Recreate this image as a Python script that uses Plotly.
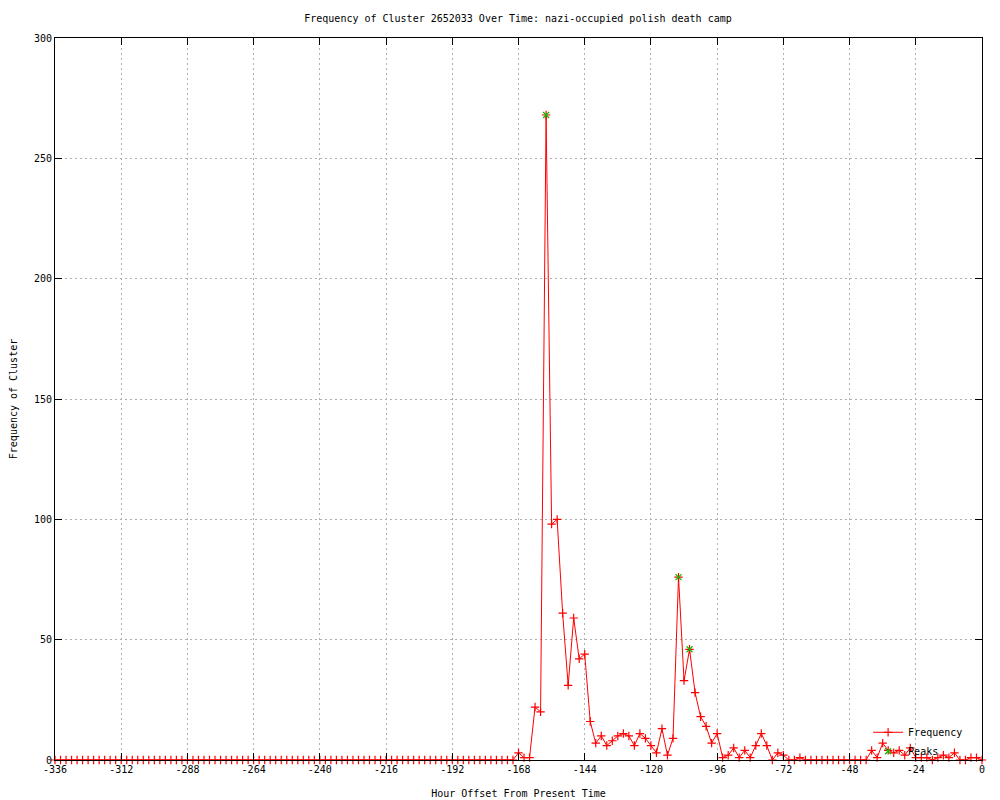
import plotly.graph_objects as go

# Hour offsets (every 2 hours from -336 to 0)
hours = list(range(-336, 1, 2))

frequency = [
    # -336 .. -170
    0, 0, 0, 0, 0, 0, 0, 0, 0, 0, 0, 0, 0, 0, 0, 0, 0, 0, 0, 0,
    0, 0, 0, 0, 0, 0, 0, 0, 0, 0, 0, 0, 0, 0, 0, 0, 0, 0, 0, 0,
    0, 0, 0, 0, 0, 0, 0, 0, 0, 0, 0, 0, 0, 0, 0, 0, 0, 0, 0, 0,
    0, 0, 0, 0, 0, 0, 0, 0, 0, 0, 0, 0, 0, 0, 0, 0, 0, 0, 0, 0,
    0, 0, 0, 0,
    # -168 .. -130
    3, 1, 1, 22, 20, 268, 98, 100, 61, 31, 59, 42, 44, 16, 7, 10, 6, 8, 10, 11,
    # -128 .. -90
    10, 6, 11, 9, 6, 3, 13, 2, 9, 76, 33, 46, 28, 18, 14, 7, 11, 1, 2, 5,
    # -88 .. -50
    1, 4, 1, 6, 11, 6, 0, 3, 2, 0, 0, 1, 0, 0, 0, 0, 0, 0, 0, 0,
    # -48 .. -10
    0, 0, 0, 0, 4, 1, 7, 4, 3, 4, 2, 5, 1, 1, 1, 0, 1, 2, 1, 3,
    # -8 .. 0
    0, 0, 1, 1, 0,
]

peak_hours = [-158, -110, -106]
peak_values = [268, 76, 46]

x_tick_vals = [-336, -312, -288, -264, -240, -216, -192, -168, -144, -120, -96, -72, -48, -24, 0]
x_tick_text = ["-336", "-312", "-288", "-264", "-240", "-216", "-192", "-168", "-144",
               "-120", "-96", "-72", "-48", "-24", "0"]
y_tick_vals = [0, 50, 100, 150, 200, 250, 300]

FONT = "DejaVu Sans Mono"
W, H = 992, 792

fig = go.Figure()
fig.add_trace(go.Scatter(
    x=hours, y=frequency, name="Frequency", mode="lines+markers",
    line=dict(color="#ff0000", width=1),
    marker=dict(symbol="cross-thin-open", size=6, color="#ff0000",
                line=dict(color="#ff0000", width=1.2)),
    cliponaxis=False,
))
fig.add_trace(go.Scatter(
    x=peak_hours, y=peak_values, name="Peaks", mode="markers",
    marker=dict(symbol="x-thin-open", size=6, color="#00c000",
                line=dict(color="#00c000", width=1.2)),
    cliponaxis=False,
))

axis_common = dict(
    showline=True, linecolor="black", linewidth=1, mirror="ticks",
    ticks="inside", ticklen=7, tickcolor="black", tickwidth=1,
    showgrid=True, gridcolor="#b0b0b0", griddash="2px,3px", gridwidth=1,
    zeroline=False, automargin=False,
    tickfont=dict(family=FONT, size=10, color="black"),
)

fig.update_xaxes(range=[-336, 0], tickvals=x_tick_vals, ticktext=x_tick_text,
                 title=dict(text="Hour Offset From Present Time",
                            font=dict(family=FONT, size=10, color="black"), standoff=15),
                 **axis_common)
fig.update_yaxes(range=[0, 300], tickvals=y_tick_vals,
                 title=dict(text="Frequency of Cluster",
                            font=dict(family=FONT, size=10, color="black"), standoff=14),
                 **axis_common)

fig.update_layout(
    width=W, height=H,
    margin=dict(l=47, r=18, t=30, b=40),
    paper_bgcolor="white", plot_bgcolor="white",
    title=dict(text="Frequency of Cluster 2652033 Over Time: nazi-occupied polish death camp",
               x=510 / W, xanchor="center", y=1 - 10 / H, yanchor="middle",
               font=dict(family=FONT, size=10, color="black")),
    font=dict(family=FONT, size=10, color="black"),
    legend=dict(x=0.985, y=-0.008, xanchor="right", yanchor="bottom",
                bgcolor="rgba(0,0,0,0)", font=dict(family=FONT, size=10),
                tracegroupgap=0, itemsizing="trace"),
    showlegend=True,
)

fig.write_html("out.html")
